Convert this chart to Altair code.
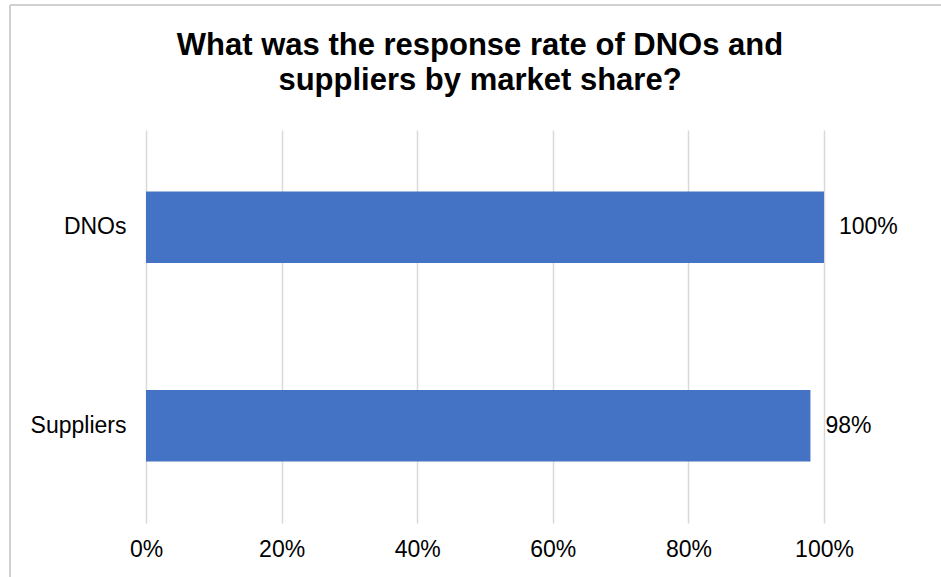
import altair as alt
import pandas as pd

categories = ["DNOs", "Suppliers"]
rates = [1.00, 0.98]
x_ticks = [0, 0.2, 0.4, 0.6, 0.8, 1.0]

df = pd.DataFrame({"group": categories, "rate": rates})
df["label"] = [f"{v:.0%}" for v in rates]

FONT = "Liberation Sans"
FS = 23

base = alt.Chart(df)

bars = base.mark_bar(color="#4472C4").encode(
    y=alt.Y("group:N", sort=categories, title=None,
            scale=alt.Scale(paddingInner=0.64, paddingOuter=0.31),
            axis=alt.Axis(labelFontSize=FS, labelColor="#000000", labelFont=FONT,
                          labelPadding=20, ticks=False, domain=False, grid=False)),
    x=alt.X("rate:Q", title=None,
            scale=alt.Scale(domain=[0, 1], nice=False),
            axis=alt.Axis(values=x_ticks, format=".0%", labelFontSize=FS,
                          labelColor="#000000", labelFont=FONT, labelPadding=15,
                          labelFlush=False,
                          ticks=False, domain=False, grid=True,
                          gridColor="#d9d9d9", gridWidth=1.5)),
)

text = base.mark_text(align="left", dx=15, fontSize=FS, font=FONT, color="#000000").encode(
    y=alt.Y("group:N", sort=categories),
    x="rate:Q",
    text="label:N",
)

frame_left = alt.Chart(df).mark_rule(color="#d0d0d0", strokeWidth=2).encode(
    x=alt.value(-136), y=alt.value(-125), y2=alt.value(460)
)
frame_top = alt.Chart(df).mark_rule(color="#d0d0d0", strokeWidth=2).encode(
    x=alt.value(-136), x2=alt.value(800), y=alt.value(-125)
)

chart = alt.layer(bars, text, frame_left, frame_top).properties(
    width=678,
    height=393,
    background="#ffffff",
    title=alt.TitleParams(
        ["What was the response rate of DNOs and", "suppliers by market share?"],
        fontSize=31, font=FONT, fontWeight="bold", color="#000000",
        lineHeight=35, offset=-93, dx=-5,
    ),
    autosize=alt.AutoSizeParams(type="none"),
    padding={"left": 146, "top": 130, "right": 117, "bottom": 54},
).configure_view(stroke=None)

chart.save("out.html", embed_options={"renderer": "svg", "actions": False})
